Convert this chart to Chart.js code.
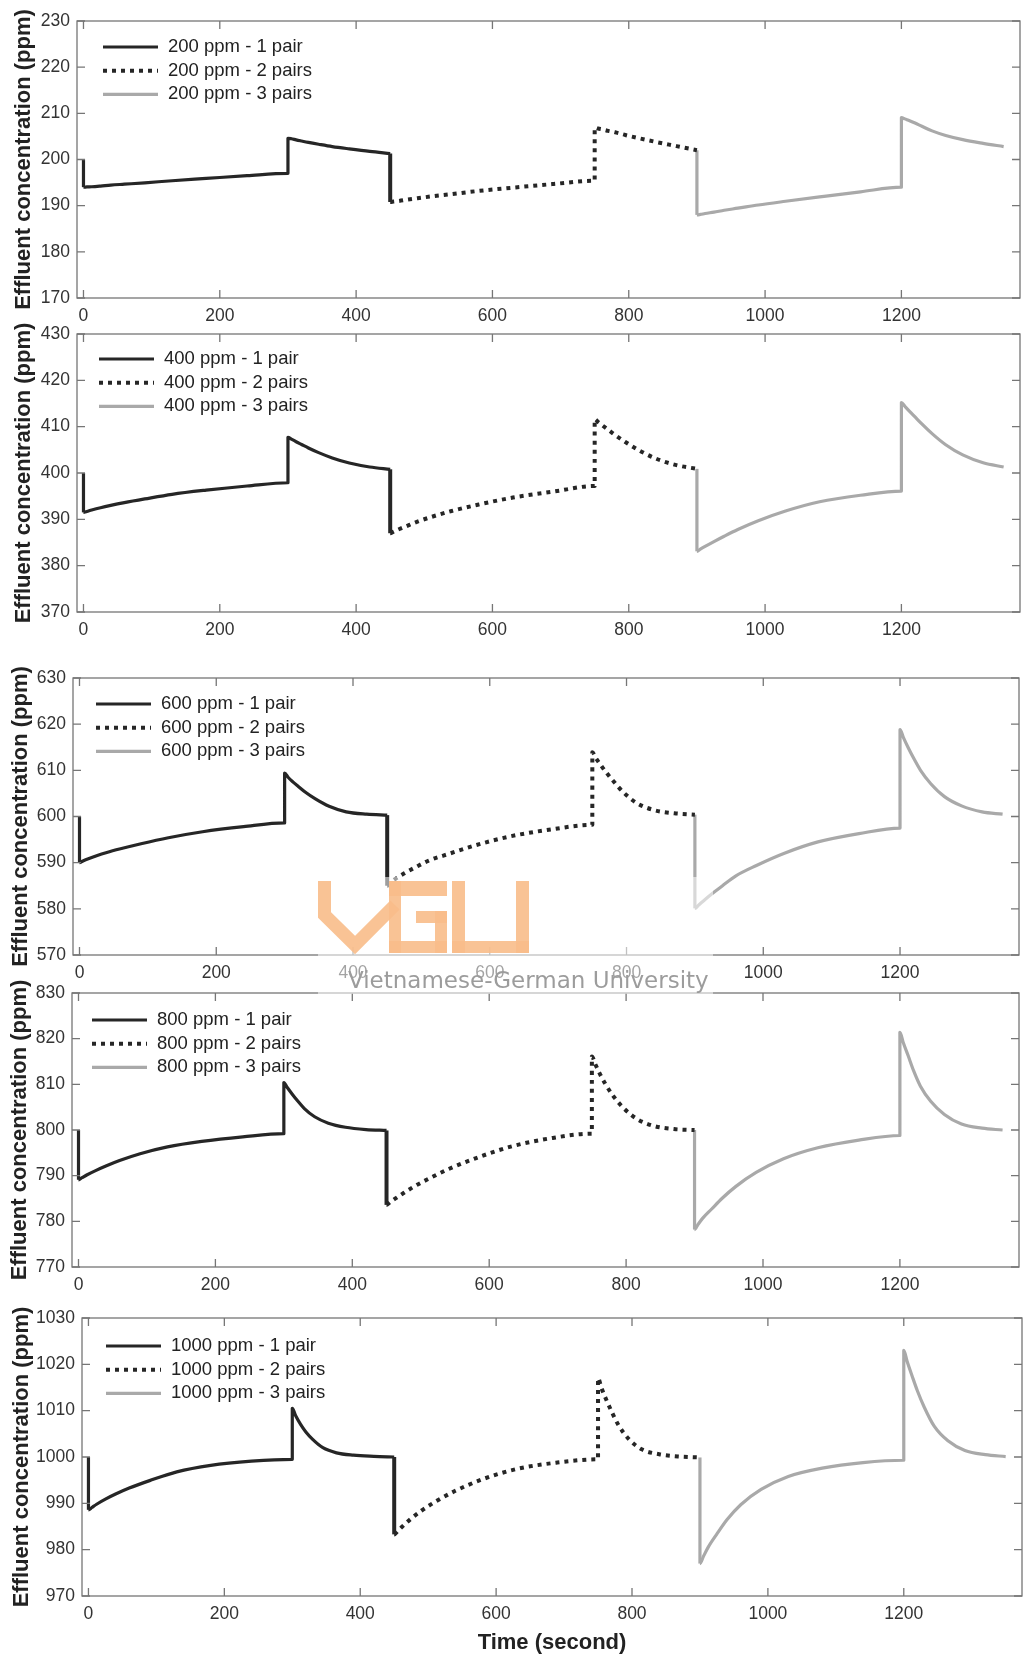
<!DOCTYPE html>
<html>
<head>
<meta charset="utf-8">
<title>Effluent concentration vs time</title>
<script src="https://cdn.jsdelivr.net/npm/chart.js@4.4.1/dist/chart.umd.min.js"></script>
<style>
  body { margin: 0; background: #fff; }
  #wrap { position: relative; width: 1028px; height: 1656px; overflow: hidden; background: #fff; }
  #wrap canvas { position: absolute; left: 0; z-index: 1; }
  #wrap #mark { top: 0; z-index: 2; }
</style>
</head>
<body>
<div id="wrap">
  <canvas id="mark" width="1028" height="1656"></canvas>
</div>
<script>
// time (s) of each run: 1 pair, then 2 pairs, then 3 pairs
// repeated times are the vertical steps (switch at start, jump mid-run)
var t1Pair  = [0, 0, 5, 12, 25, 40, 60, 90, 130, 180, 240, 300, 300, 305, 312, 320, 330, 345, 365, 390, 420, 450];
var t2Pairs = [450, 450, 455, 462, 475, 490, 510, 540, 580, 630, 690, 750, 750, 755, 762, 770, 780, 795, 815, 840, 870, 900];
var t3Pairs = [900, 900, 905, 912, 925, 940, 960, 990, 1030, 1080, 1140, 1200, 1200, 1205, 1212, 1220, 1230, 1245, 1265, 1290, 1320, 1350];

var xTicks = [0, 200, 400, 600, 800, 1000, 1200];

// effluent concentration (ppm), feed 200 ppm
var c200_1 = [200, 194.0, 194.05, 194.1, 194.25, 194.45, 194.65, 194.95, 195.4, 195.9, 196.5, 197.0, 204.6, 204.5, 204.25, 204.0, 203.7, 203.3, 202.8, 202.3, 201.75, 201.3];
var c200_2 = [201.3, 190.8, 190.9, 191.0, 191.3, 191.6, 192.0, 192.5, 193.2, 193.9, 194.7, 195.4, 206.9, 206.7, 206.5, 206.2, 205.9, 205.3, 204.6, 203.8, 202.9, 202.0];
var c200_3 = [202.0, 188.0, 188.1, 188.3, 188.6, 189.0, 189.45, 190.15, 190.95, 191.9, 193.0, 194.0, 209.1, 208.8, 208.4, 207.9, 207.2, 206.2, 205.2, 204.3, 203.5, 202.8];
var yTicks200 = [170, 180, 190, 200, 210, 220, 230];

// feed 400 ppm
var c400_1 = [400, 391.5, 391.7, 392.0, 392.5, 393.0, 393.6, 394.4, 395.4, 396.3, 397.2, 397.9, 407.7, 407.3, 406.75, 406.15, 405.4, 404.4, 403.25, 402.15, 401.3, 400.8];
var c400_2 = [400.8, 387.0, 387.35, 387.8, 388.6, 389.5, 390.5, 391.8, 393.2, 394.7, 396.0, 397.2, 411.6, 411.0, 410.2, 409.3, 408.2, 406.7, 404.9, 403.1, 401.7, 400.9];
var c400_3 = [400.9, 383.1, 383.55, 384.15, 385.2, 386.35, 387.8, 389.7, 391.8, 393.8, 395.2, 396.1, 415.2, 414.4, 413.3, 412.1, 410.6, 408.5, 406.1, 403.9, 402.2, 401.3];
var yTicks400 = [370, 380, 390, 400, 410, 420, 430];

// feed 600 ppm
var c600_1 = [600, 590.0, 590.35, 590.8, 591.5, 592.2, 593.0, 594.1, 595.4, 596.7, 597.8, 598.6, 609.4, 608.5, 607.5, 606.5, 605.3, 603.8, 602.2, 601.0, 600.5, 600.3];
var c600_2 = [600.3, 585.0, 585.7, 586.5, 587.7, 588.9, 590.4, 591.9, 593.8, 595.7, 597.2, 598.2, 613.9, 612.7, 611.2, 609.6, 607.8, 605.3, 602.9, 601.4, 600.7, 600.4];
var c600_3 = [600.4, 580.1, 580.75, 581.65, 583.25, 584.95, 587.15, 589.4, 592.0, 594.5, 596.3, 597.5, 618.8, 617.1, 614.9, 612.6, 610.0, 607.1, 604.3, 602.3, 601.0, 600.5];
var yTicks600 = [570, 580, 590, 600, 610, 620, 630];

// feed 800 ppm
var c800_1 = [800, 789.1, 789.55, 790.15, 791.1, 792.1, 793.3, 794.8, 796.3, 797.5, 798.5, 799.2, 810.4, 809.3, 807.9, 806.4, 804.7, 802.9, 801.5, 800.6, 800.1, 799.9];
var c800_2 = [799.9, 783.6, 784.15, 784.9, 786.2, 787.6, 789.2, 791.4, 793.8, 796.3, 798.2, 799.2, 816.1, 814.4, 812.2, 810.0, 807.7, 805.0, 802.5, 800.9, 800.2, 800.0];
var c800_3 = [800.0, 778.2, 779.3, 780.7, 782.7, 785.0, 787.6, 790.7, 793.7, 796.1, 797.8, 798.8, 821.4, 819.1, 816.3, 813.0, 809.6, 806.3, 803.4, 801.3, 800.4, 800.0];
var yTicks800 = [770, 780, 790, 800, 810, 820, 830];

// feed 1000 ppm
var c1000_1 = [1000, 988.6, 989.1, 989.8, 990.9, 992.0, 993.3, 994.9, 996.8, 998.2, 999.1, 999.5, 1010.5, 1008.9, 1007.1, 1005.4, 1003.8, 1002.0, 1000.9, 1000.4, 1000.15, 1000.0];
var c1000_2 = [1000.0, 983.3, 984.0, 985.0, 986.7, 988.4, 990.3, 992.7, 995.2, 997.4, 998.8, 999.5, 1017.0, 1014.9, 1012.4, 1009.8, 1006.9, 1003.9, 1001.6, 1000.6, 1000.1, 999.9];
var c1000_3 = [999.9, 977.0, 978.5, 980.5, 983.4, 986.5, 989.7, 993.0, 995.8, 997.6, 998.8, 999.3, 1023.0, 1020.6, 1017.6, 1014.3, 1010.8, 1006.6, 1003.5, 1001.4, 1000.5, 1000.1];
var yTicks1000 = [970, 980, 990, 1000, 1010, 1020, 1030];

var feeds = [200, 400, 600, 800, 1000];
var runLabels = ['1 pair', '2 pairs', '3 pairs'];
var runTimes = [t1Pair, t2Pairs, t3Pairs];
var runData = [
  [c200_1, c200_2, c200_3],
  [c400_1, c400_2, c400_3],
  [c600_1, c600_2, c600_3],
  [c800_1, c800_2, c800_3],
  [c1000_1, c1000_2, c1000_3]
];
var yTickSets = [yTicks200, yTicks400, yTicks600, yTicks800, yTicks1000];

// line look of each run
var runStyles = [
  { color: '#262626', width: 3.2, dash: [] },
  { color: '#262626', width: 4, dash: [4, 5] },
  { color: '#a9a9a9', width: 3.2, dash: [] }
];

// where each plot box sits on the page, plus its legend offset
var frames = [
  { left: 77, right: 1020, top: 21, bottom: 298, titleX: 24, legX: 26, legY: 26 },
  { left: 77, right: 1020, top: 334, bottom: 612, titleX: 24, legX: 22, legY: 25 },
  { left: 73, right: 1019, top: 678, bottom: 955, titleX: 21, legX: 23, legY: 26 },
  { left: 72, right: 1019, top: 993, bottom: 1267, titleX: 20, legX: 20, legY: 27 },
  { left: 82, right: 1022, top: 1318, bottom: 1596, titleX: 22, legX: 24, legY: 28 }
];
var xMin = -9.5, xMax = 1374;
var fontFamily = '"Liberation Sans", Arial, sans-serif';

// box around the axes, inward ticks on all four sides and the legend
var boxPlugin = {
  id: 'matlabBox',
  afterDraw: function (chart, args, opts) {
    var ctx = chart.ctx;
    var a = chart.chartArea;
    var xs = chart.scales.x, ys = chart.scales.y;
    ctx.save();
    ctx.strokeStyle = '#767676';
    ctx.lineWidth = 1.3;
    ctx.strokeRect(a.left, a.top, a.right - a.left, a.bottom - a.top);
    ctx.beginPath();
    xs.ticks.forEach(function (t) {
      var px = xs.getPixelForValue(t.value);
      ctx.moveTo(px, a.bottom); ctx.lineTo(px, a.bottom - 8);
      ctx.moveTo(px, a.top); ctx.lineTo(px, a.top + 8);
    });
    ys.ticks.forEach(function (t) {
      var py = ys.getPixelForValue(t.value);
      ctx.moveTo(a.left, py); ctx.lineTo(a.left + 8, py);
      ctx.moveTo(a.right, py); ctx.lineTo(a.right - 8, py);
    });
    ctx.stroke();

    // legend rows
    ctx.font = '18.5px ' + fontFamily;
    ctx.textBaseline = 'middle';
    ctx.fillStyle = '#222';
    chart.data.datasets.forEach(function (ds, i) {
      var x0 = a.left + opts.legX;
      var y = a.top + opts.legY + i * 23.7;
      ctx.beginPath();
      ctx.strokeStyle = ds.borderColor;
      ctx.lineWidth = ds.borderWidth;
      ctx.lineCap = 'butt';
      ctx.setLineDash(ds.borderDash);
      ctx.moveTo(x0, y);
      ctx.lineTo(x0 + 55, y);
      ctx.stroke();
      ctx.setLineDash([]);
      ctx.fillText(ds.label, x0 + 65, y);
    });
    ctx.restore();
  }
};

function makePanel(i) {
  var f = frames[i];
  var last = i === feeds.length - 1;
  var padTop = 24;
  var plotH = f.bottom - f.top;
  var canvasH = last ? 1656 - (f.top - padTop) : plotH + padTop + 42;

  var cv = document.createElement('canvas');
  cv.width = 1028;
  cv.height = canvasH;
  cv.style.top = (f.top - padTop) + 'px';
  document.getElementById('wrap').appendChild(cv);

  var datasets = runTimes.map(function (times, r) {
    var vals = runData[i][r];
    return {
      label: feeds[i] + ' ppm - ' + runLabels[r],
      data: times.map(function (t, k) { return { x: t, y: vals[k] }; }),
      borderColor: runStyles[r].color,
      borderWidth: runStyles[r].width,
      borderDash: runStyles[r].dash,
      borderCapStyle: 'butt',
      borderJoinStyle: 'round',
      // the drop at the start of each run is drawn solid
      segment: {
        borderDash: function (ctx) { return ctx.p0DataIndex === 0 ? [] : undefined; }
      },
      pointRadius: 0,
      cubicInterpolationMode: 'monotone'
    };
  });

  var yTicks = yTickSets[i];

  new Chart(cv, {
    type: 'line',
    data: { datasets: datasets },
    options: {
      responsive: false,
      animation: false,
      devicePixelRatio: 1,
      layout: { padding: { top: padTop, right: 1028 - f.right, left: 0, bottom: 0 } },
      plugins: {
        legend: { display: false },
        tooltip: { enabled: false },
        matlabBox: { legX: f.legX, legY: f.legY }
      },
      scales: {
        x: {
          type: 'linear',
          min: xMin,
          max: xMax,
          grid: { display: false, drawTicks: false },
          border: { display: false },
          ticks: {
            font: { family: fontFamily, size: 17.5 },
            color: '#333',
            padding: 8,
            maxRotation: 0,
            autoSkip: false,
            callback: function (v) { return String(v); }
          },
          afterBuildTicks: function (s) {
            s.ticks = xTicks.map(function (v) { return { value: v }; });
          },
          afterFit: function (s) { s.height = canvasH - padTop - plotH; },
          title: {
            display: last,
            text: 'Time (second)',
            color: '#222',
            font: { family: fontFamily, size: 22, weight: 'bold', lineHeight: 1 },
            padding: { top: 0, bottom: 2 }
          }
        },
        y: {
          type: 'linear',
          min: yTicks[0],
          max: yTicks[yTicks.length - 1],
          grid: { display: false, drawTicks: false },
          border: { display: false },
          ticks: {
            font: { family: fontFamily, size: 17.5 },
            color: '#333',
            padding: 7,
            callback: function (v) { return String(v); }
          },
          afterBuildTicks: function (s) {
            s.ticks = yTicks.map(function (v) { return { value: v }; });
          },
          afterFit: function (s) { s.width = f.left; },
          title: {
            display: true,
            text: 'Effluent concentration (ppm)',
            color: '#222',
            font: { family: fontFamily, size: 22, weight: 'bold', lineHeight: 1 },
            padding: { top: f.titleX - 11, bottom: 0 }
          }
        }
      }
    },
    plugins: [boxPlugin]
  });
}

// university watermark over the middle panel
function drawMark() {
  var g = document.getElementById('mark').getContext('2d');
  g.fillStyle = 'rgba(255,255,255,0.55)';
  g.fillRect(318, 877, 395, 117);

  g.globalAlpha = 0.9;
  g.fillStyle = '#f8bd8a';
  g.strokeStyle = '#f8bd8a';
  // V
  g.lineWidth = 13;
  g.lineJoin = 'miter';
  g.beginPath();
  g.moveTo(324.5, 881);
  g.lineTo(324.5, 915);
  g.lineTo(355, 945);
  g.lineTo(395, 905);
  g.stroke();
  // G
  g.fillRect(389, 881, 58, 15);
  g.fillRect(389, 881, 12, 72);
  g.fillRect(389, 941, 58, 12);
  g.fillRect(435, 911, 12, 42);
  g.fillRect(416, 911, 31, 12);
  // U
  g.fillRect(452, 881, 13, 72);
  g.fillRect(516, 881, 13, 72);
  g.fillRect(452, 941, 77, 12);
  g.globalAlpha = 1;

  g.fillStyle = '#9c9c9c';
  g.font = '23px "DejaVu Sans", sans-serif';
  g.textBaseline = 'alphabetic';
  g.fillText('Vietnamese-German University', 348, 988);
}

feeds.forEach(function (feed, i) { makePanel(i); });
drawMark();
</script>
</body>
</html>
